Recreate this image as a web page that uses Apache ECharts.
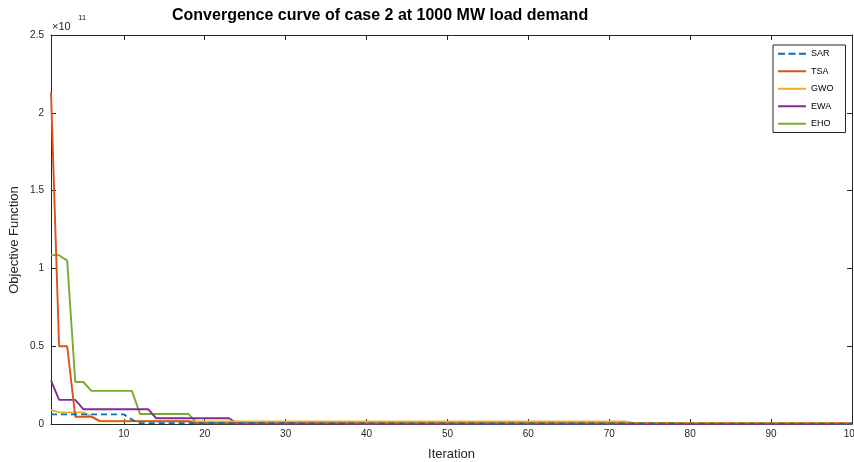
<!DOCTYPE html>
<html>
<head>
<meta charset="utf-8">
<script src="https://cdn.jsdelivr.net/npm/echarts@6/dist/echarts.min.js"></script>
<style>
  html, body { margin: 0; padding: 0; background: #fff; }
  #chart { width: 854px; height: 462px; }
</style>
</head>
<body>
<div id="chart"></div>
<script>
// Best objective value per iteration (units of 1e11), listed at the iterations where it changes.
const sarPoints = [[1, 0.062], [10, 0.062], [11, 0.028], [12, 0.005], [100, 0.002]];
const tsaPoints = [[1, 2.13], [2, 0.5], [3, 0.5], [4, 0.047], [6, 0.047], [7, 0.02], [18, 0.018], [19, 0.004], [100, 0.004]];
const gwoPoints = [[1, 0.09], [2, 0.075], [5, 0.075], [7, 0.018], [72, 0.016], [73, 0.006], [100, 0.006]];
const ewaPoints = [[1, 0.28], [2, 0.155], [4, 0.155], [5, 0.095], [13, 0.095], [14, 0.037], [23, 0.037], [24, 0.003], [37, 0.003], [38, 0.001], [100, 0.001]];
const ehoPoints = [[1, 1.085], [2, 1.085], [3, 1.05], [4, 0.27], [5, 0.27], [6, 0.213], [11, 0.213], [12, 0.064], [18, 0.064], [19, 0.009], [100, 0.004]];

const seriesNames = ['SAR', 'TSA', 'GWO', 'EWA', 'EHO'];
const seriesColors = ['#0072BD', '#D95319', '#EDB120', '#7E2F8E', '#77AC30'];
const xTicks = [10, 20, 30, 40, 50, 60, 70, 80, 90, 100];
const yTicks = [0, 0.5, 1, 1.5, 2, 2.5];

const axisColor = '#262626';
const font = '"Liberation Sans", Arial, Helvetica, sans-serif';

// legend keys: a solid stroke, and a three-dash stroke for the dashed series
const solidKey = 'path://M0,0h28v2h-28z';
const dashedKey = 'path://M0,0h7v2h-7zM10.5,0h7v2h-7zM21,0h7v2h-7z';

const chart = echarts.init(document.getElementById('chart'), null, { renderer: 'canvas' });

const allPoints = [sarPoints, tsaPoints, gwoPoints, ewaPoints, ehoPoints];

function boxAxis(extra) {
  return Object.assign({
    type: 'value',
    axisLine: { show: true, onZero: false, lineStyle: { color: axisColor, width: 1 } },
    splitLine: { show: false },
    axisTick: { show: true, inside: true, length: 5, lineStyle: { color: axisColor, width: 1 } },
    axisLabel: { show: false }
  }, extra);
}

chart.setOption({
  animation: false,
  backgroundColor: '#ffffff',
  grid: { left: 51, right: 2, top: 35, bottom: 38, containLabel: false, outerBoundsMode: 'none' },
  xAxis: [
    boxAxis({
      min: 1, max: 100, position: 'bottom',
      name: 'Iteration', nameLocation: 'middle', nameGap: 24,
      nameTextStyle: { color: axisColor, fontSize: 13, fontFamily: font },
      axisTick: { show: true, inside: true, length: 5, customValues: xTicks, lineStyle: { color: axisColor } },
      axisLabel: { show: true, customValues: xTicks, margin: 5, color: axisColor, fontSize: 10, fontFamily: font }
    }),
    boxAxis({
      min: 1, max: 100, position: 'top',
      axisTick: { show: true, inside: true, length: 5, customValues: xTicks, lineStyle: { color: axisColor } }
    })
  ],
  yAxis: [
    boxAxis({
      min: 0, max: 2.5, interval: 0.5, position: 'left',
      axisLabel: {
        show: true, margin: 7, color: axisColor, fontSize: 10, fontFamily: font,
        formatter: v => yTicks.includes(v) ? String(v) : ''
      }
    }),
    boxAxis({ min: 0, max: 2.5, interval: 0.5, position: 'right' })
  ],
  legend: {
    show: true,
    orient: 'vertical',
    left: 773, top: 45,
    padding: [4, 12, 4, 5],
    itemGap: 8,
    itemWidth: 28, itemHeight: 2,
    symbolKeepAspect: false,
    borderColor: axisColor, borderWidth: 1,
    backgroundColor: '#fff',
    textStyle: { color: '#000', fontSize: 9, fontFamily: font, lineHeight: 9.5, height: 9.5 },
    data: seriesNames.map((n, i) => ({ name: n, icon: i === 0 ? dashedKey : solidKey }))
  },
  graphic: [
    {
      type: 'text', left: 172, top: 8,
      style: { text: 'Convergence curve of case 2 at 1000 MW load demand', fill: '#000',
               font: 'bold 16px ' + font }
    },
    { type: 'text', left: 52, top: 21, style: { text: '×10', fill: axisColor, font: '11px ' + font } },
    { type: 'text', left: 78, top: 14, style: { text: '11', fill: axisColor, font: '8px ' + font } },
    {
      type: 'text', x: 14, y: 240, rotation: Math.PI / 2,
      style: { text: 'Objective Function', fill: axisColor, font: '13px ' + font,
               align: 'center', verticalAlign: 'middle' }
    }
  ],
  series: seriesNames.map((n, i) => ({
    name: n,
    type: 'line',
    data: allPoints[i],
    symbol: 'none',
    clip: true,
    z: 10 - i,
    itemStyle: { color: seriesColors[i] },
    lineStyle: { color: seriesColors[i], width: 1.9, type: i === 0 ? [6, 4] : 'solid' }
  }))
});
</script>
</body>
</html>
